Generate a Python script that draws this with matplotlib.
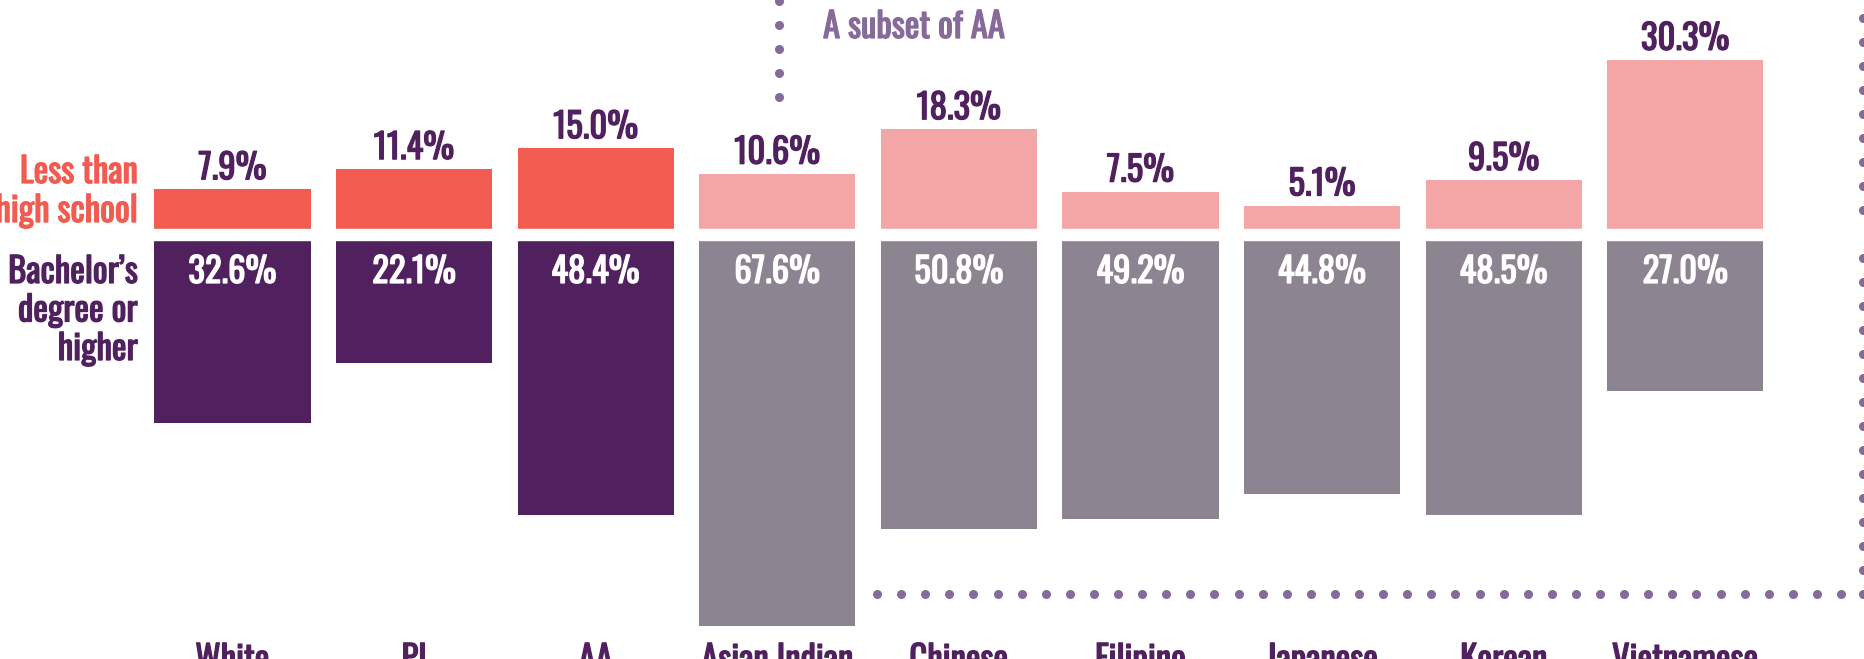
import numpy as np
import matplotlib.pyplot as plt
import matplotlib.patheffects as pe

groups = ['White', 'PI', 'AA', 'Asian Indian', 'Chinese', 'Filipino', 'Japanese', 'Korean', 'Vietnamese']
less_hs = [7.9, 11.4, 15.0, 10.6, 18.3, 7.5, 5.1, 9.5, 30.3]
bachelor = [32.6, 22.1, 48.4, 67.6, 50.8, 49.2, 44.8, 48.5, 27.0]
n_main = 3  # White, PI, AA; the others are a subset of AA

c_orange = '#F15B50'
c_pink = '#F4A6A6'
c_purple = '#50215E'
c_grey = '#8C8491'
c_dot = '#866A9A'

plt.rcParams['font.family'] = ['Oswald', 'Antonio', 'Fjalla One', 'Pragati Narrow', 'DejaVu Sans']

W, H = 1865, 659
X0, DX = 232.5, 181.6   # px of first bar centre, px between bars
Y0, DY = 235, 5.78      # px of zero line, px per percent

def xd(px):
    return (px - X0) / DX

def yd(py):
    return (Y0 - py) / DY

def lab(xx, yy, s, col, **kw):
    # oswald only comes in one weight here, thicken it with a stroke
    ax.text(xx, yy, s, va='baseline', fontsize=25, color=col,
            path_effects=[pe.withStroke(linewidth=0.9, foreground=col)], **kw)

fig = plt.figure(figsize=(W / 100, H / 100), dpi=100)
ax = fig.add_axes([0, 0, 1, 1])
ax.set_xlim(xd(0), xd(W))
ax.set_ylim(yd(H), yd(0))
ax.axis('off')

x = np.arange(len(groups))
top_cols = [c_orange if i < n_main else c_pink for i in x]
bot_cols = [c_purple if i < n_main else c_grey for i in x]
ax.bar(x, less_hs, width=0.86, color=top_cols, zorder=2)
ax.bar(x, [-v for v in bachelor], width=0.86, color=bot_cols, zorder=2)
# white gap between the two halves
ax.axhspan(yd(240), yd(229), color='white', zorder=3)

for i, g in enumerate(groups):
    lab(i, less_hs[i] + 10 / DY, f'{less_hs[i]:.1f}%', c_purple, ha='center', zorder=4)
    lab(i, yd(283), f'{bachelor[i]:.1f}%', 'white', ha='center', zorder=4)
    lab(i, yd(671), g, c_purple, ha='center', clip_on=False)

# side labels
for s, py in [('Less than', 183), ('high school', 222)]:
    lab(xd(138), yd(py), s, c_orange, ha='right')
for s, py in [('Bachelor\u2019s', 283), ('degree or', 321.5), ('higher', 360)]:
    lab(xd(138), yd(py), s, c_purple, ha='right')

lab(xd(823), yd(38), 'A subset of AA', c_dot, ha='left')

# dotted bracket around the subset (dots every 24 px)
dot = dict(color=c_dot, ms=6.5, marker='o', mew=0, linestyle='none', clip_on=False, zorder=1)
vy = np.arange(97, -10, -24)
ax.plot(np.full(len(vy), xd(779)), yd(vy), **dot)
hx = np.arange(877, 1866, 24.1)
ax.plot(xd(hx), np.full(len(hx), yd(594)), **dot)
ry = np.arange(594, -10, -24)
ax.plot(np.full(len(ry), xd(1863)), yd(ry), **dot)

fig.savefig('out.png', dpi=100)
